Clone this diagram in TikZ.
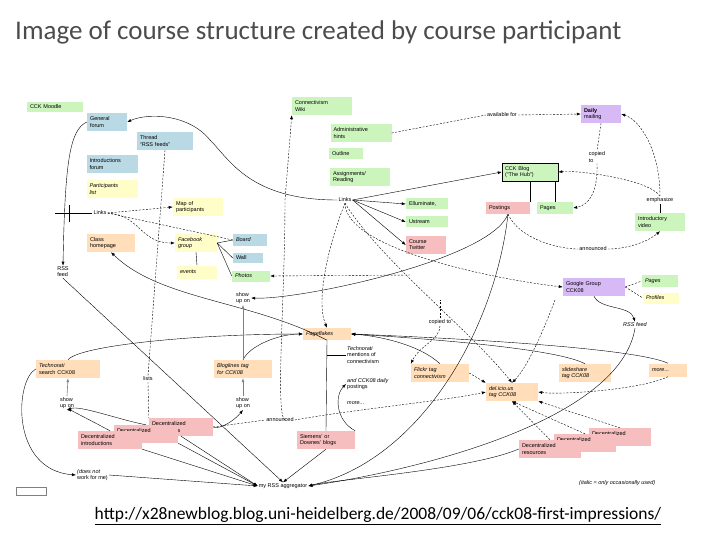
\documentclass[tikz,border=0pt]{standalone}
\usepackage{fontspec}
\setmainfont{Liberation Sans}
\newfontfamily\titlefont{Carlito}
\usetikzlibrary{arrows.meta}
\definecolor{cgreen}{RGB}{204,245,190}
\definecolor{cblue}{RGB}{185,218,228}
\definecolor{cyellow}{RGB}{255,253,200}
\definecolor{corange}{RGB}{255,222,185}
\definecolor{cred}{RGB}{246,190,190}
\definecolor{cpurple}{RGB}{214,185,245}
\begin{document}
\begin{tikzpicture}[x=1pt,y=-1pt,
  every node/.style={font=\fontsize{5.5}{6.2}\selectfont, align=left, inner sep=1.5pt},
  bx/.style={minimum height=18pt, text width=#1, inner xsep=3pt},
  bx/.default=44pt,
  gbox/.style={bx=#1, fill=cgreen}, gbox/.default=44pt,
  bbox/.style={bx=#1, fill=cblue}, bbox/.default=44pt,
  ybox/.style={bx=#1, fill=cyellow}, ybox/.default=44pt,
  obox/.style={bx=#1, fill=corange}, obox/.default=44pt,
  rbox/.style={bx=#1, fill=cred}, rbox/.default=44pt,
  pbox/.style={bx=#1, fill=cpurple}, pbox/.default=44pt,
  lbl/.style={inner sep=1pt},
  sol/.style={-{Latex[length=4pt]}, thin},
  das/.style={-{Latex[length=4pt]}, thin, dashed, dash pattern=on 2pt off 1.5pt},
  dl/.style={thin, dashed, dash pattern=on 2pt off 1.5pt},
  gr/.style={-{Latex[length=4pt]}, gray, semithick}]
\useasboundingbox (0,0) rectangle (720,540);
\node[anchor=west, font=\titlefont\fontsize{27}{30}\selectfont, text=black!70, inner sep=0] (title) at (15,32) {Image of course structure created by course participant};
\node[font=\titlefont\fontsize{17.5}{20}\selectfont, inner sep=0] (url) at (378,516) {\underline{http://x28newblog.blog.uni-heidelberg.de/2008/09/06/cck08-first-impressions/}};
% left column
\node[gbox=50pt, minimum height=10pt] (moodle) at (55,107) {CCK Moodle};
\node[bbox=34pt] (gforum) at (107,122) {General\\forum};
\node[bbox=50pt] (thread) at (165,141) {Thread\\``RSS feeds''};
\node[bbox=45pt] (intro) at (112,164) {Introductions\\forum};
\node[ybox=45pt] (plist) at (112,189) {\itshape Participants\\list};
\node[lbl] (linksL) at (100,213) {Links};
\node[lbl] (rssL) at (63,272) {RSS\\feed};
\node[ybox=44pt] (map) at (198,207) {Map of\\participants};
\node[obox=42pt] (classhp) at (111,243) {Class\\homepage};
\node[ybox=36pt] (fb) at (196,243) {\itshape Facebook\\group};
\node[bbox=28pt, minimum height=12pt] (board) at (250,240) {\itshape Board};
\node[bbox=24pt, minimum height=10pt] (wall) at (248,258) {Wall};
\node[gbox=32pt, minimum height=11pt] (photos) at (251,276) {\itshape Photos};
\node[ybox=34pt, minimum height=13pt] (events) at (197,272) {\itshape events};
% middle top
\node[gbox=54pt] (wiki) at (322,106) {Connectivism\\Wiki};
\node[gbox=55pt] (admin) at (361,133) {Administrative\\hints};
\node[gbox=28pt, minimum height=11pt] (outline) at (346,154) {Outline};
\node[gbox=54pt] (assign) at (360,177) {Assignments/\\Reading};
\node[lbl] (linksM) at (345,200) {Links};
\node[gbox=36pt, minimum height=11pt] (ellu) at (427,204) {Elluminate,};
\node[gbox=36pt, minimum height=11pt] (ustream) at (427,222) {Ustream};
\node[rbox=34pt] (twitter) at (426,245) {Course\\Twitter};
\node[gbox=50pt, draw=black, semithick] (hub) at (530,172) {CCK Blog\\(``The Hub'')};
\node[rbox=38pt, minimum height=12pt] (postings) at (508,208) {Postings};
\node[gbox=30pt, minimum height=12pt] (pages) at (555,208) {Pages};
\node[pbox=34pt, font=\bfseries\fontsize{5.5}{6.2}\selectfont] (daily) at (601,114) {Daily\\\mdseries mailing};
\node[lbl] (avail) at (502,115) {available for};
\node[lbl] (copied) at (597,157) {copied\\to};
\node[lbl] (emph) at (660,200) {emphasize};
\node[gbox=44pt] (video) at (660,222) {Introductory\\video};
\node[lbl] (annR) at (593,249) {announced};
\node[pbox=56pt] (google) at (594,287) {Google Group\\CCK08};
\node[gbox=30pt, minimum height=12pt] (gpages) at (660,281) {\itshape Pages};
\node[ybox=30pt, minimum height=11pt] (profiles) at (661,298) {\itshape Profiles};
\node[lbl] (showT) at (243,298) {show\\up on};
\node[lbl, font=\itshape\fontsize{5.5}{6.2}\selectfont] (rssR) at (635,325) {RSS feed};
\node[lbl] (copiedM) at (440,322) {copied to};
\node[obox=42pt, minimum height=12pt] (flakes) at (327,334) {\itshape Pageflakes};
% lower
\node[obox=58pt] (techno) at (68,369) {\itshape Technorati\\\upshape search CCK08};
\node[obox=52pt] (blogl) at (243,369) {\itshape Bloglines tag\\for CCK08};
\node[lbl] (lists) at (148,379) {lists};
\node[lbl] (showL) at (67,403) {show\\up on};
\node[lbl] (showM) at (243,403) {show\\up on};
\node[lbl, anchor=west] (tmen) at (346,355) {\itshape Technorati\\mentions of\\connectivism};
\node[lbl, anchor=west] (daily2) at (346,384) {\itshape and CCK08 daily\\\upshape postings};
\node[lbl, anchor=west] (moreM) at (346,403) {\itshape more...};
\node[obox=52pt] (flickr) at (440,373) {\itshape Flickr tag\\connectivism};
\node[obox=46pt] (slide) at (585,373) {\itshape slideshare\\tag CCK08};
\node[obox=32pt, minimum height=13pt] (moreR) at (668,370) {\itshape more...};
\node[obox=46pt] (delic) at (512,392) {\itshape del.icio.us\\tag CCK08};
\node[rbox=58pt] (dd3) at (181,427) {Decentralized\\discussions};
\node[rbox=58pt] (dd2) at (146,434) {Decentralized\\lections};
\node[rbox=58pt] (dd1) at (110,440) {Decentralized\\introductions};
\node[rbox=52pt] (siemens) at (326,440) {Siemens' or\\Downes' blogs};
\node[rbox=56pt] (dr3) at (620,437) {Decentralized\\ices};
\node[rbox=56pt] (dr2) at (585,443) {Decentralized\\ices};
\node[rbox=56pt] (dr1) at (550,449) {Decentralized\\resources};
\node[lbl] (annL) at (280,420) {announced};
\node[lbl, anchor=west] (notwork) at (76,475) {\itshape (does not\\work for me)};
\node[lbl] (agg) at (283,486) {my RSS aggregator};
\node[lbl, anchor=west] (italic) at (578,483) {\itshape (italic = only occasionally used)};
\node[draw=gray, minimum width=30pt, minimum height=8pt, inner sep=0] (cc) at (31,491) {};
% connectors top-left
\draw[sol] (linksM.west) .. controls (250,200) and (230,160) .. (210,140) .. controls (190,115) and (150,112) .. (gforum.east);
\draw[sol] (gforum.west) .. controls (70,130) and (65,160) .. (rssL.north);
\draw (55,213) -- (linksL.west);
\draw (69,205) -- (69,222);
\draw[das] (linksL.east) -- (map.west);
\draw[das] (linksL.east) .. controls (140,215) and (140,243) .. (fb.west);
\draw[dl] (linksL.east) -- (board.west);
\draw (fb.east) -- (board.west);
\draw (fb.east) -- (wall.west);
\draw (fb.east) -- (photos.west);
\draw (fb.south) -- (events.north);
\draw[dl] (thread.south) -- (lists.north);
\draw[dl] (lists.south) -- (dd3.north west);
\coordinate (wikifoot) at (285,420);
\draw[das] (wikifoot) .. controls (275,415) and (285,300) .. (285,200) -- (wiki.south west);
\draw[dl] (admin.east) -- (avail.west);
\draw[das] (avail.east) -- (daily.west);
% middle links
\draw[sol] (linksM.east) -- (hub.west);
\draw[sol] (linksM.east) -- (ellu.west);
\draw[sol] (linksM.east) -- (ustream.west);
\draw[sol] (linksM.east) -- (twitter.west);
\draw[das] (linksM.south) .. controls (345,250) and (500,280) .. (google.west);
\draw[das] (linksM.south) .. controls (330,240) and (315,300) .. (flakes.north);
\draw (hub.south -| postings.north east) -- (postings.north east);
\draw (hub.south -| pages.north) -- (pages.north);
\draw[dl] (daily.south) -- (copied.north);
\draw[das] (copied.south) .. controls (598,190) and (590,205) .. (pages.east);
\draw (video.north) -- (emph.south);
\draw[das] (emph.north) .. controls (660,150) and (640,120) .. (daily.east);
\draw[das] (emph.north) .. controls (650,180) and (580,170) .. (hub.east);
\draw[dl] (postings.south) .. controls (520,240) and (560,249) .. (annR.west);
\draw[das] (annR.east) .. controls (630,249) and (650,240) .. (video.south);
\draw[sol] (postings.south) .. controls (490,260) and (300,300) .. (showT.east);
\draw[das] (410,275) -- (photos.east);
\draw[dl] (google.east) -- (gpages.west);
\draw[dl] (google.east) -- (profiles.west);
\draw[sol] (google.south) .. controls (600,310) and (630,305) .. (rssR.north);
\draw[sol] (rssR.south) .. controls (620,420) and (420,470) .. (agg.east);
\draw[sol] (postings.south) .. controls (495,330) and (420,460) .. (agg.east);
\draw[sol] (flakes.south) .. controls (250,300) and (160,300) .. (classhp.south);
\draw[sol] (rssL.south) -- (agg.north);
% pageflakes sources
\draw[sol] (moreR.north) .. controls (640,350) and (500,340) .. (flakes.east);
\draw[sol] (slide.north) .. controls (560,350) and (450,340) .. (flakes.east);
\draw[sol] (flickr.north) .. controls (420,345) and (380,336) .. (flakes.east);
\draw[sol] (techno.north) .. controls (80,345) and (200,334) .. (flakes.west);
\draw[sol] (blogl.north) .. controls (250,345) and (280,334) .. (flakes.west);
\draw[gr] (blogl.north) -- (showT.south);
\draw (flakes.south) -- (siemens.north);
\draw (flakes.south |- tmen.west) -- (tmen.west);
\draw[sol] (siemens.north east) .. controls (335,420) and (335,395) .. (daily2.west);
\draw[gr] (showL.north) -- (techno.south);
\draw[gr] (showM.north) -- (blogl.south);
\draw[sol] (dd1.north) .. controls (90,420) and (70,410) .. (showL.south);
\draw[sol] (dd2.north) .. controls (120,420) and (80,405) .. (showL.south);
\draw[sol] (dd3.east) .. controls (220,430) and (235,420) .. (showM.south);
\draw[sol] (techno.west) .. controls (15,380) and (10,470) .. (notwork.west);
\draw[sol] (notwork.east) -- (agg.west);
\draw[sol] (dd1.south east) -- (agg.west);
\draw[sol] (dd2.south east) -- (agg.west);
\draw[sol] (dd3.south) -- (agg.west);
\draw[sol] (siemens.south) -- (agg.north);
\draw[dl] (dd3.east) -- (annL.west);
\draw[das] (annL.east) .. controls (350,410) and (450,400) .. (delic.west);
\draw[das] (flickr.east) -- (delic.north west);
\draw[das] (moreR.south) .. controls (640,390) and (560,395) .. (delic.east);
\draw[das] (dr1.north) -- (delic.south);
\draw[das] (dr2.north) -- (delic.south);
\draw[das] (dr3.north) -- (delic.south east);
\draw[dl] (copiedM.north) -- (copiedM.north |- 0,300);
\draw[das] (copiedM.south) .. controls (440,340) and (420,345) .. (flickr.north west);
\draw[das] (linksM.south) .. controls (380,260) and (470,330) .. (delic.north);
\draw[das] (555,300) .. controls (540,340) and (525,370) .. (delic.north);
\draw[sol] (dr1.west) .. controls (470,470) and (330,480) .. (agg.east);
\end{tikzpicture}
\end{document}
